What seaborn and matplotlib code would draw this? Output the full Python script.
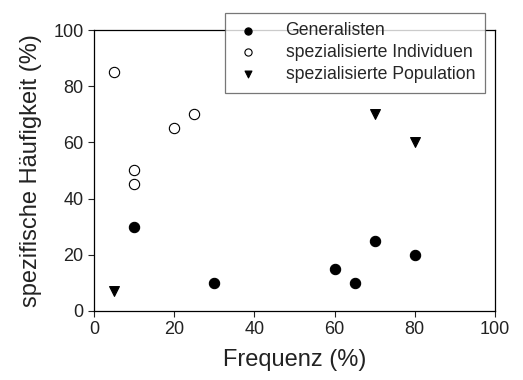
import matplotlib
matplotlib.use("Agg")
import matplotlib.pyplot as plt
import seaborn as sns
import pandas as pd

gen_x = [10, 30, 60, 65, 70, 80]
gen_y = [30, 10, 15, 10, 25, 20]
ind_x = [5, 10, 10, 20, 25]
ind_y = [85, 50, 45, 65, 70]
pop_x = [5, 70, 80]
pop_y = [7, 70, 60]
labels = ["Generalisten", "spezialisierte Individuen", "spezialisierte Population"]
x_ticks = [0, 20, 40, 60, 80, 100]
y_ticks = [0, 20, 40, 60, 80, 100]

sns.set_style("ticks")
plt.rcParams['font.family'] = ['Liberation Sans', 'DejaVu Sans']

fig = plt.figure(figsize=(5.23, 3.80), dpi=100)
ax = fig.add_axes([0.180, 0.182, 0.766, 0.739])

df_g = pd.DataFrame({"x": gen_x, "y": gen_y})
df_i = pd.DataFrame({"x": ind_x, "y": ind_y})
df_p = pd.DataFrame({"x": pop_x, "y": pop_y})

sns.scatterplot(data=df_g, x="x", y="y", ax=ax, marker="o", s=55,
                color="black", edgecolor="black", linewidth=0.8, label=labels[0], zorder=3)
sns.scatterplot(data=df_i, x="x", y="y", ax=ax, marker="o", s=55,
                facecolor="white", edgecolor="black", linewidth=0.8, label=labels[1], zorder=3)
sns.scatterplot(data=df_p, x="x", y="y", ax=ax, marker="v", s=50,
                color="black", edgecolor="black", linewidth=0.8, label=labels[2], zorder=3)

ax.set_xlim(0, 100)
ax.set_ylim(0, 100)
ax.set_xticks(x_ticks)
ax.set_yticks(y_ticks)
ax.tick_params(direction="out", length=4, width=0.8, labelsize=13, colors="#222222")
for sp in ax.spines.values():
    sp.set_visible(True)
    sp.set_linewidth(0.9)
    sp.set_color("black")
ax.set_xlabel("Frequenz (%)", fontsize=17, labelpad=8, color="#222222")
ax.set_ylabel("spezifische Häufigkeit (%)", fontsize=17, labelpad=8, color="#222222")

leg = ax.legend(loc="upper right", bbox_to_anchor=(0.975, 1.062), frameon=True,
                fancybox=False, fontsize=12.7, handletextpad=1.3, borderpad=0.55,
                labelspacing=0.27, borderaxespad=0, handlelength=1.6, markerscale=0.7)
leg.get_frame().set_edgecolor("#555555")
leg.get_frame().set_linewidth(0.9)
leg.set_zorder(10)

fig.savefig("out.png", dpi=100)
